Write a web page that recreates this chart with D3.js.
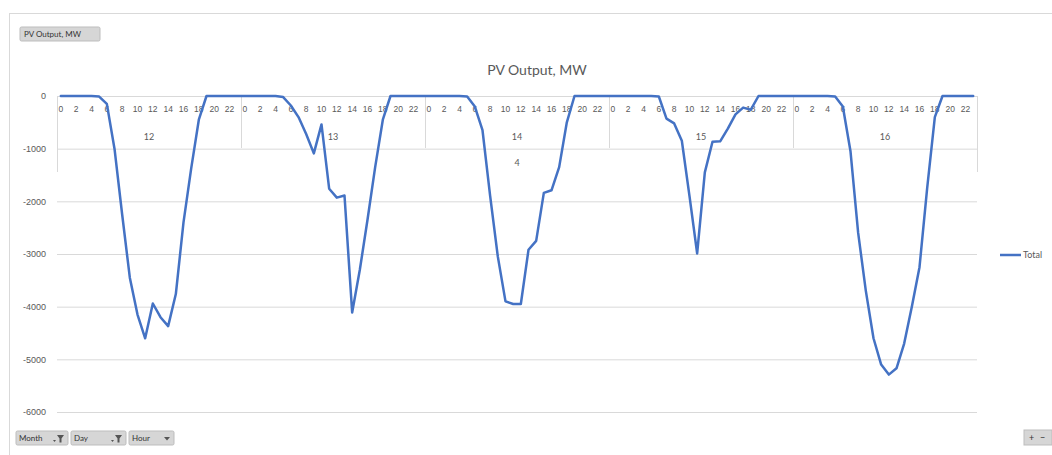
<!DOCTYPE html>
<html>
<head>
<meta charset="utf-8">
<script src="https://cdn.jsdelivr.net/npm/d3@7"></script>
<style>
  html, body { margin: 0; padding: 0; background: #fff; }
  svg { display: block; font-family: Lato, "Open Sans", "Liberation Sans", sans-serif; }
</style>
</head>
<body>
<svg id="chart" width="1052" height="455"></svg>
<script>
// Pivot chart: hourly PV output (MW) for April 12–16
const months = ["4"];
const days = ["12", "13", "14", "15", "16"];
const hours = ["0","1","2","3","4","5","6","7","8","9","10","11","12","13","14","15","16","17","18","19","20","21","22","23"];
const hourTickLabels = ["0","2","4","6","8","10","12","14","16","18","20","22"];
const yTicks = [0, -1000, -2000, -3000, -4000, -5000, -6000];

const day12 = [0,0,0,0,0,-10,-150,-1000,-2250,-3450,-4150,-4600,-3940,-4200,-4370,-3760,-2400,-1380,-450,0,0,0,0,0];
const day13 = [0,0,0,0,0,-20,-180,-400,-720,-1090,-540,-1760,-1930,-1890,-4110,-3300,-2350,-1350,-450,0,0,0,0,0];
const day14 = [0,0,0,0,0,-10,-200,-650,-1900,-3050,-3900,-3950,-3950,-2920,-2750,-1840,-1790,-1350,-500,0,0,0,0,0];
const day15 = [0,0,0,0,0,0,-10,-430,-520,-850,-1900,-2990,-1450,-870,-860,-620,-350,-220,-260,0,0,0,0,0];
const day16 = [0,0,0,0,0,-10,-200,-1050,-2600,-3700,-4600,-5100,-5290,-5170,-4700,-4000,-3250,-1750,-400,0,0,0,0,0];
const seriesName = "Total";

const dayValues = [day12, day13, day14, day15, day16];
const rows = [];
days.forEach((d, di) => hours.forEach((h, hi) => rows.push({ key: d + "-" + h, day: d, hour: h, value: dayValues[di][hi] })));

const svg = d3.select("#chart");
const grid = "#d9d9d9";
const textCol = "#595959";
const lineCol = "#4472C4";

const plot = { left: 57, right: 977, top: 96, bottom: 412 };

const x = d3.scaleBand().domain(rows.map(r => r.key)).range([plot.left, plot.right]).paddingInner(0).paddingOuter(0);
const y = d3.scaleLinear().domain([-6000, 0]).range([plot.bottom, plot.top]);
const dayScale = d3.scaleBand().domain(days).range([plot.left, plot.right]);
const monthScale = d3.scaleBand().domain(months).range([plot.left, plot.right]);

// chart area frame
svg.append("rect").attr("x", 9.5).attr("y", 13.5).attr("width", 1045).attr("height", 450)
  .attr("fill", "#fff").attr("stroke", grid);

// value field button
function button(gx, gy, w, h, label, size) {
  const g = svg.append("g").attr("transform", `translate(${gx},${gy})`);
  g.append("rect").attr("width", w).attr("height", h).attr("rx", 1.5)
    .attr("fill", "#d6d6d6").attr("stroke", "#bdbdbd");
  g.append("text").attr("x", 4).attr("y", h / 2 + size * 0.35).attr("font-size", size)
    .attr("fill", "#333").text(label);
  return g;
}
button(20, 27, 80, 14, "PV Output, MW", 8);

// title
svg.append("text").attr("x", 537).attr("y", 75).attr("text-anchor", "middle")
  .attr("font-size", 14).attr("fill", textCol).text("PV Output, MW");

// horizontal gridlines + value labels
const yAxis = d3.axisLeft(y).tickValues(yTicks).tickSize(-(plot.right - plot.left)).tickFormat(d3.format("d"));
const yg = svg.append("g").attr("transform", `translate(${plot.left},0)`).call(yAxis);
yg.select(".domain").remove();
yg.selectAll(".tick line").attr("stroke", grid).attr("stroke-width", 1);
yg.selectAll(".tick text").attr("fill", textCol).attr("font-size", 9).attr("x", -11)
  .text(d => d === 0 ? "0" : "-" + Math.abs(d));

// multi-level category axis (hour / day / month), crossing at zero
const axisG = svg.append("g");
const hourRowY = 112, dayRowY = 140, monthRowY = 166;
const dayBottom = 148, monthBottom = 172;

const hourAxis = d3.axisTop(x).tickSize(0)
  .tickValues(rows.filter(r => hourTickLabels.includes(r.hour)).map(r => r.key))
  .tickFormat(k => k.split("-")[1]);
const hg = axisG.append("g").attr("transform", `translate(0,${hourRowY + 3})`).call(hourAxis);
hg.select(".domain").remove();
hg.selectAll("text").attr("fill", textCol).attr("font-size", 8.5).attr("dy", 0);

// day separators
const sepX = days.map(d => dayScale(d)).concat([plot.right]);
axisG.selectAll("line.daysep").data(sepX).enter().append("line")
  .attr("x1", d => d + 0.5).attr("x2", d => d + 0.5)
  .attr("y1", plot.top).attr("y2", (d, i) => (i === 0 || i === sepX.length - 1) ? monthBottom : dayBottom)
  .attr("stroke", grid);

axisG.selectAll("text.day").data(days).enter().append("text")
  .attr("x", d => dayScale(d) + dayScale.bandwidth() / 2).attr("y", dayRowY)
  .attr("text-anchor", "middle").attr("font-size", 9).attr("fill", textCol).text(d => d);

axisG.selectAll("text.month").data(months).enter().append("text")
  .attr("x", d => monthScale(d) + monthScale.bandwidth() / 2).attr("y", monthRowY)
  .attr("text-anchor", "middle").attr("font-size", 9).attr("fill", textCol).text(d => d);

// series line
const line = d3.line().x(r => x(r.key) + x.bandwidth() / 2).y(r => y(r.value));
svg.append("path").datum(rows).attr("d", line)
  .attr("fill", "none").attr("stroke", lineCol).attr("stroke-width", 2.5)
  .attr("stroke-linejoin", "round").attr("stroke-linecap", "round");

// legend
const lg = svg.append("g").attr("transform", "translate(1000,255)");
lg.append("line").attr("x1", 0).attr("x2", 21).attr("stroke", lineCol).attr("stroke-width", 2.5);
lg.append("text").attr("x", 23).attr("y", 3).attr("font-size", 9).attr("fill", textCol).text(seriesName);

// axis field buttons
function fieldButton(gx, w, label, filtered) {
  const g = svg.append("g").attr("transform", `translate(${gx},431)`);
  g.append("rect").attr("width", w).attr("height", 14).attr("rx", 1.5)
    .attr("fill", "#d6d6d6").attr("stroke", "#bdbdbd");
  g.append("text").attr("x", 3).attr("y", 10).attr("font-size", 8).attr("fill", "#333").text(label);
  if (filtered) {
    g.append("path").attr("d", `M${w - 11},4 h7 l-2.5,3.5 v4 h-2 v-4 z`).attr("fill", "#555");
    g.append("path").attr("d", `M${w - 15},9 h3 l-1.5,2 z`).attr("fill", "#555");
  } else {
    g.append("path").attr("d", `M${w - 10},6 h6 l-3,3.5 z`).attr("fill", "#555");
  }
}
fieldButton(16, 52, "Month", true);
fieldButton(71, 55, "Day", true);
fieldButton(129, 45, "Hour", false);

// zoom buttons
const zb = svg.append("g").attr("transform", "translate(1024,430)");
zb.append("rect").attr("width", 28).attr("height", 15).attr("fill", "#d6d6d6").attr("stroke", "#bdbdbd");
zb.append("text").attr("x", 5).attr("y", 11).attr("font-size", 9).attr("fill", "#333").text("+");
zb.append("text").attr("x", 16).attr("y", 11).attr("font-size", 9).attr("fill", "#333").text("−");
</script>
</body>
</html>
